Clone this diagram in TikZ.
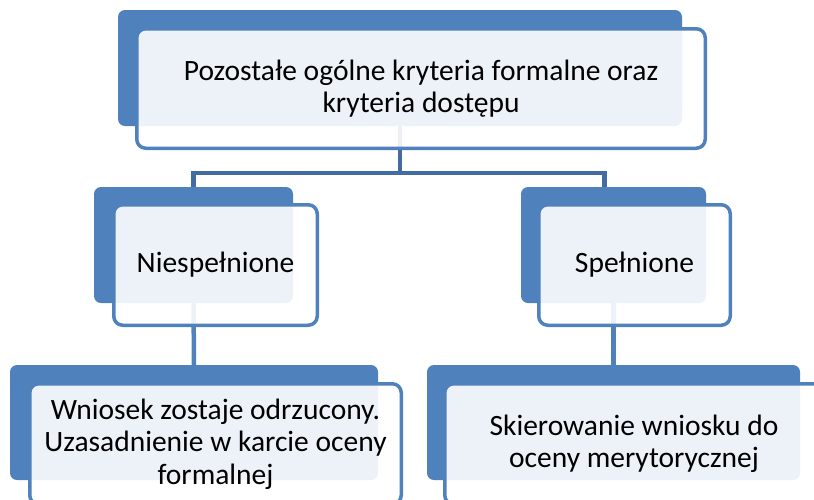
\documentclass[tikz,border=0pt]{standalone}
\usepackage{fontspec}
\setmainfont{Carlito}
\usepackage{xcolor}
\definecolor{AccentBlue}{RGB}{79,129,189}
\definecolor{LineBlue}  {RGB}{66,108,163}
\usetikzlibrary{backgrounds}

\begin{document}
\begin{tikzpicture}[
  x=1pt, y=-1pt,
  font=\fontsize{29.5}{32.5}\selectfont,
  backbox/.style={
    fill=AccentBlue, rounded corners=7pt,
    inner sep=0pt, outer sep=0pt},
  frontbox/.style={
    draw=AccentBlue, line width=3.5pt,
    fill=white, fill opacity=0.9,
    text opacity=1, rounded corners=9pt,
    align=center, inner sep=0pt},
  connmain/.style={
    line width=4.5pt, color=LineBlue},
  connsub/.style={
    line width=4.5pt, color=AccentBlue}
]

\useasboundingbox (0,0) rectangle (814,499);

% shadow boxes
\node[backbox, minimum width=564pt,
  minimum height=116pt]
  (critbg) at (400,68) {};
\node[backbox, minimum width=199pt,
  minimum height=116pt]
  (nokbg) at (193.5,245) {};
\node[backbox, minimum width=185pt,
  minimum height=116pt]
  (okbg) at (613.5,245) {};
\node[backbox, minimum width=368pt,
  minimum height=115pt]
  (rejectbg) at (194,422.5) {};
\node[backbox, minimum width=373pt,
  minimum height=115pt]
  (meritbg) at (613.5,422.5) {};

% text boxes
\node[frontbox, minimum width=568.5pt,
  minimum height=119.5pt]
  (crit) at (421,88.5)
  {Pozostałe ogólne kryteria formalne oraz\\
  kryteria dostępu};
\node[frontbox, minimum width=203.5pt,
  minimum height=120.5pt]
  (nok) at (215.5,265)
  {Niespełnione};
\node[frontbox, minimum width=191.5pt,
  minimum height=120.5pt]
  (ok) at (634.5,265)
  {Spełnione};
\node[frontbox, minimum width=371.5pt,
  minimum height=120.5pt]
  (reject) at (215.5,444)
  {Wniosek zostaje odrzucony.\\
  Uzasadnienie w karcie oceny\\
  formalnej};
\node[frontbox, minimum width=378.5pt,
  minimum height=120.5pt]
  (merit) at (634,444)
  {Skierowanie wniosku do\\
  oceny merytorycznej};

% connectors
\begin{scope}[on background layer]
  \draw[connmain] (critbg.south) -- ++(0,47)
    -| (nokbg.north);
  \draw[connmain] (critbg.south) -- ++(0,47)
    -| ([xshift=-9pt]okbg.north);
  \draw[connsub] (nokbg.south) -- (rejectbg.north);
  \draw[connsub] (okbg.south) -- (meritbg.north);
\end{scope}

\end{tikzpicture}
\end{document}
